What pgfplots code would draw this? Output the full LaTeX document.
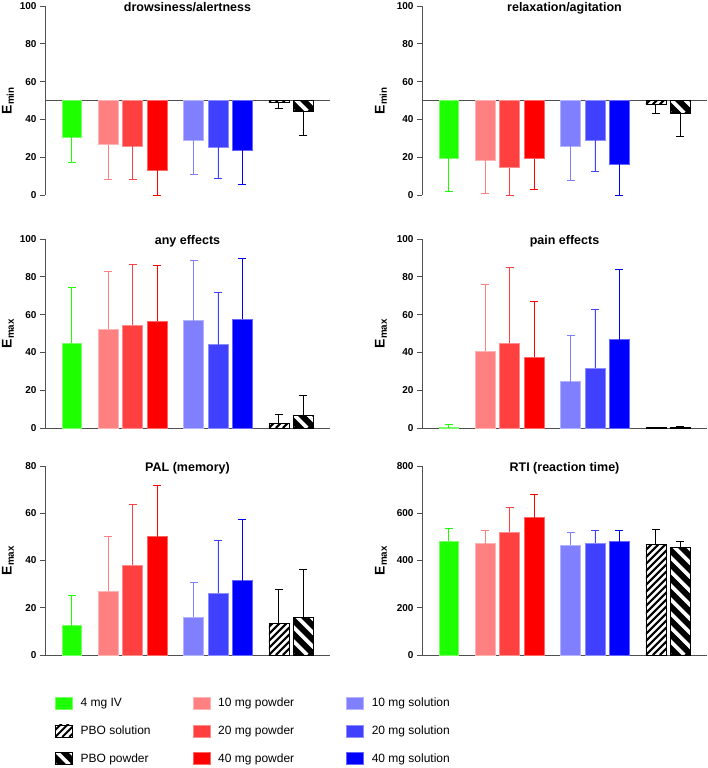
\documentclass[border=0pt]{standalone}
\usepackage{fontspec}
\setmainfont{Liberation Sans}
\usepackage{pgfplots}
\pgfplotsset{compat=1.18}

\definecolor{cG}{RGB}{30,255,0}
\definecolor{cP1}{RGB}{255,128,128}
\definecolor{cP2}{RGB}{255,64,64}
\definecolor{cP3}{RGB}{255,0,0}
\definecolor{cS1}{RGB}{128,128,255}
\definecolor{cS2}{RGB}{64,64,255}
\definecolor{cS3}{RGB}{0,0,255}
\definecolor{axgray}{RGB}{80,80,80}

% stripes on a PBO bar: #1 sol/pow, #2 x, #3 base, #4 value (data units)
\def\yoff{0}
\newcommand\stripessol{\foreach \k in {-18,...,3}
  {\draw[black, line width=2pt] ([xshift=\k*7pt]axis cs:\hxl,\hlo) -- ++(200pt,200pt);}}
\newcommand\stripespow{\foreach \k in {0,...,11}
  {\draw[white, line width=3.8pt] ([xshift=\k*14pt]axis cs:\hxl,\hlo) -- ++(-200pt,200pt);}}
\newcommand\hatchbar[4]{\pgfplotsextra{%
  \pgfmathsetmacro\hxl{#2-0.41}\pgfmathsetmacro\hxr{#2+0.41}%
  \pgfmathsetmacro\hyb{#3-\yoff}\pgfmathsetmacro\hyt{#4-\yoff}%
  \pgfmathsetmacro\hlo{min(#3,#4)-\yoff}%
  \begin{scope}
    \clip (axis cs:\hxl,\hyb) rectangle (axis cs:\hxr,\hyt);
    \csname stripes#1\endcsname
  \end{scope}
  \draw[black, line width=0.6pt] (axis cs:\hxl,\hyb) rectangle (axis cs:\hxr,\hyt);}}

\pgfplotsset{
  panel/.style={
    scale only axis, width=285pt, height=189pt, anchor=south west,
    xmin=-1.1, xmax=10.6, xtick=\empty,
    axis y line*=left, axis x line*=bottom,
    axis line style={draw=axgray, line width=0.9pt},
    tick style={draw=axgray, line width=0.9pt},
    tick align=outside, major tick length=5pt,
    yticklabel style={font=\bfseries\fontsize{10}{12}\selectfont},
    /pgf/number format/assume math mode=true,
    every axis title/.style={at={(0.5,1)}, anchor=base, yshift=-5.5pt,
      font=\bfseries\fontsize{12.5}{15}\selectfont},
    every axis y label/.style={at={(axis description cs:0,0.5)}, rotate=90, anchor=center, yshift=#1,
      font=\bfseries\fontsize{14}{16}\selectfont},
    error bars/y dir=plus, error bars/y explicit,
    clip=false,
  },
  emin/.style={
    axis x line=none, y filter/.expression={y-50},
    ymin=-50, ymax=50, ytick={-50,-30,-10,10,30,50}, yticklabels={0,20,40,60,80,100},
    error bars/y dir=minus, ylabel={E\textsubscript{min}},
  },
  emax/.style={ylabel={E\textsubscript{max}}},
  barbase/.style={ybar, bar width=0.82, bar shift=0pt, line width=0.6pt},
  cbar/.style={barbase, fill=#1, draw=#1!60!white,
    error bars/error bar style={draw=#1, line width=0.8pt},
    error bars/error mark options={draw=#1, rotate=90, mark size=4pt, line width=0.8pt}},
  kerr/.style={error bars/error bar style={draw=black, line width=0.8pt},
    error bars/error mark options={draw=black, rotate=90, mark size=4pt, line width=0.8pt}},
  pbosol/.style={barbase, fill=white, draw=black, kerr},
  pbopow/.style={barbase, fill=black, draw=black, kerr},
  sqlegend/.style={legend image code/.code={\draw[##1, line width=0.6pt] (0pt,-6pt) rectangle (17pt,6pt);}},
  sollegend/.style={legend image code/.code={%
    \begin{scope}
      \clip (0pt,-6pt) rectangle (17pt,6pt);
      \fill[white] (0pt,-6pt) rectangle (17pt,6pt);
      \foreach \k in {-3,...,3} {\draw[black, line width=2pt] (\k*7pt,-6pt) -- ++(20pt,20pt);}
    \end{scope}
    \draw[black, line width=0.6pt] (0pt,-6pt) rectangle (17pt,6pt);}},
  powlegend/.style={legend image code/.code={%
    \begin{scope}
      \clip (0pt,-6pt) rectangle (17pt,6pt);
      \fill[black] (0pt,-6pt) rectangle (17pt,6pt);
      \foreach \k in {0,...,3} {\draw[white, line width=3.8pt] (\k*14pt,-6pt) -- ++(-20pt,20pt);}
    \end{scope}
    \draw[black, line width=0.6pt] (0pt,-6pt) rectangle (17pt,6pt);}},
}

\begin{document}
\begin{tikzpicture}
\path[use as bounding box] (0,0) rectangle (708pt,-768pt);

% drowsiness/alertness
\begin{axis}[panel=37pt, emin, at={(45pt,-195pt)}, title={drowsiness/alertness}]
\def\yoff{50}
\addplot[axgray, line width=0.9pt, mark=none] coordinates {(-1.1,50) (10.6,50)};
\addplot[cbar=cG]  coordinates {(0,30.5)   +- (0,13.2)};
\addplot[cbar=cP1] coordinates {(1.5,26.6) +- (0,18.3)};
\addplot[cbar=cP2] coordinates {(2.5,25.9) +- (0,17.4)};
\addplot[cbar=cP3] coordinates {(3.5,13.2) +- (0,13.2)};
\addplot[cbar=cS1] coordinates {(5,29.1)   +- (0,18.3)};
\addplot[cbar=cS2] coordinates {(6,25.4)   +- (0,16.4)};
\addplot[cbar=cS3] coordinates {(7,23.6)   +- (0,18.0)};
\addplot[pbosol]   coordinates {(8.5,49.0) +- (0,3.1)};
\addplot[pbopow]   coordinates {(9.5,44.4) +- (0,13.0)};
\hatchbar{sol}{8.5}{50}{49.0}
\hatchbar{pow}{9.5}{50}{44.4}
\end{axis}

% relaxation/agitation
\begin{axis}[panel=41pt, emin, at={(422pt,-195pt)}, title={relaxation/agitation}]
\def\yoff{50}
\addplot[axgray, line width=0.9pt, mark=none] coordinates {(-1.1,50) (10.6,50)};
\addplot[cbar=cG]  coordinates {(0,19.4)   +- (0,17.6)};
\addplot[cbar=cP1] coordinates {(1.5,18.5) +- (0,17.6)};
\addplot[cbar=cP2] coordinates {(2.5,14.5) +- (0,14.5)};
\addplot[cbar=cP3] coordinates {(3.5,19.2) +- (0,16.2)};
\addplot[cbar=cS1] coordinates {(5,25.9)   +- (0,18.0)};
\addplot[cbar=cS2] coordinates {(6,28.9)   +- (0,16.6)};
\addplot[cbar=cS3] coordinates {(7,16.4)   +- (0,16.4)};
\addplot[pbosol]   coordinates {(8.5,48.0) +- (0,5.0)};
\addplot[pbopow]   coordinates {(9.5,43.4) +- (0,12.5)};
\hatchbar{sol}{8.5}{50}{48.0}
\hatchbar{pow}{9.5}{50}{43.4}
\end{axis}

% any effects
\begin{axis}[panel=37pt, emax, at={(45pt,-428pt)}, title={any effects},
  ymin=0, ymax=100, ytick={0,20,...,100}]
\addplot[cbar=cG]  coordinates {(0,45.0)   +- (0,29.5)};
\addplot[cbar=cP1] coordinates {(1.5,52.2) +- (0,30.8)};
\addplot[cbar=cP2] coordinates {(2.5,54.5) +- (0,32.2)};
\addplot[cbar=cP3] coordinates {(3.5,56.5) +- (0,29.3)};
\addplot[cbar=cS1] coordinates {(5,56.8)   +- (0,32.0)};
\addplot[cbar=cS2] coordinates {(6,44.1)   +- (0,27.9)};
\addplot[cbar=cS3] coordinates {(7,57.7)   +- (0,32.0)};
\addplot[pbosol]   coordinates {(8.5,2.3)  +- (0,5.0)};
\addplot[pbopow]   coordinates {(9.5,6.9)  +- (0,10.3)};
\hatchbar{sol}{8.5}{0}{2.3}
\hatchbar{pow}{9.5}{0}{6.9}
\end{axis}

% pain effects
\begin{axis}[panel=41pt, emax, at={(422pt,-428pt)}, title={pain effects},
  ymin=0, ymax=100, ytick={0,20,...,100}]
\addplot[cbar=cG]  coordinates {(0,0.2)    +- (0,1.9)};
\addplot[cbar=cP1] coordinates {(1.5,40.5) +- (0,35.4)};
\addplot[cbar=cP2] coordinates {(2.5,44.8) +- (0,40.2)};
\addplot[cbar=cP3] coordinates {(3.5,37.5) +- (0,29.6)};
\addplot[cbar=cS1] coordinates {(5,24.6)   +- (0,24.6)};
\addplot[cbar=cS2] coordinates {(6,31.5)   +- (0,31.5)};
\addplot[cbar=cS3] coordinates {(7,46.7)   +- (0,37.0)};
\addplot[pbosol]   coordinates {(8.5,0.2)  +- (0,0.3)};
\addplot[pbopow]   coordinates {(9.5,0.3)  +- (0,0.6)};
\end{axis}

% PAL (memory)
\begin{axis}[panel=37pt, emax, at={(45pt,-655pt)}, title={PAL (memory)},
  ymin=0, ymax=80, ytick={0,20,...,80}]
\addplot[cbar=cG]  coordinates {(0,12.4)   +- (0,12.8)};
\addplot[cbar=cP1] coordinates {(1.5,27.1) +- (0,23.1)};
\addplot[cbar=cP2] coordinates {(2.5,37.9) +- (0,25.7)};
\addplot[cbar=cP3] coordinates {(3.5,50.1) +- (0,21.7)};
\addplot[cbar=cS1] coordinates {(5,15.9)   +- (0,14.8)};
\addplot[cbar=cS2] coordinates {(6,26.2)   +- (0,22.2)};
\addplot[cbar=cS3] coordinates {(7,31.5)   +- (0,25.8)};
\addplot[pbosol]   coordinates {(8.5,13.4) +- (0,14.5)};
\addplot[pbopow]   coordinates {(9.5,15.9) +- (0,20.5)};
\hatchbar{sol}{8.5}{0}{13.4}
\hatchbar{pow}{9.5}{0}{15.9}
\end{axis}

% RTI (reaction time)
\begin{axis}[panel=41pt, emax, at={(422pt,-655pt)}, title={RTI (reaction time)},
  ymin=0, ymax=800, ytick={0,200,...,800}]
\addplot[cbar=cG]  coordinates {(0,482)   +- (0,54)};
\addplot[cbar=cP1] coordinates {(1.5,471) +- (0,58)};
\addplot[cbar=cP2] coordinates {(2.5,520) +- (0,105)};
\addplot[cbar=cP3] coordinates {(3.5,581) +- (0,97)};
\addplot[cbar=cS1] coordinates {(5,464)   +- (0,54)};
\addplot[cbar=cS2] coordinates {(6,474)   +- (0,53)};
\addplot[cbar=cS3] coordinates {(7,480)   +- (0,49)};
\addplot[pbosol]   coordinates {(8.5,468) +- (0,62)};
\addplot[pbopow]   coordinates {(9.5,454) +- (0,28)};
\hatchbar{sol}{8.5}{0}{468}
\hatchbar{pow}{9.5}{0}{454}
\end{axis}

% legend
\begin{axis}[hide axis, scale only axis, width=708pt, height=100pt,
  at={(0pt,-768pt)}, anchor=south west, xmin=0, xmax=1, ymin=0, ymax=1,
  legend columns=3, legend cell align=left,
  legend style={draw=none, fill=none, at={(0.0777,0.71)}, anchor=north west,
    inner sep=0pt, outer sep=0pt, row sep=15pt, column sep=0pt,
    font=\fontsize{12}{14}\selectfont, nodes={inner xsep=0pt, inner ysep=1pt}}]
\addlegendimage{sqlegend, fill=cG, draw=cG!60!white}
\addlegendentry{\hspace{8pt}\makebox[112pt][l]{4 mg IV}}
\addlegendimage{sqlegend, fill=cP1, draw=cP1!60!white}
\addlegendentry{\hspace{8pt}\makebox[128pt][l]{10 mg powder}}
\addlegendimage{sqlegend, fill=cS1, draw=cS1!60!white}
\addlegendentry{\hspace{8pt}10 mg solution}
\addlegendimage{sollegend}
\addlegendentry{\hspace{8pt}\makebox[112pt][l]{PBO solution}}
\addlegendimage{sqlegend, fill=cP2, draw=cP2!60!white}
\addlegendentry{\hspace{8pt}\makebox[128pt][l]{20 mg powder}}
\addlegendimage{sqlegend, fill=cS2, draw=cS2!60!white}
\addlegendentry{\hspace{8pt}20 mg solution}
\addlegendimage{powlegend}
\addlegendentry{\hspace{8pt}\makebox[112pt][l]{PBO powder}}
\addlegendimage{sqlegend, fill=cP3, draw=cP3!60!white}
\addlegendentry{\hspace{8pt}\makebox[128pt][l]{40 mg powder}}
\addlegendimage{sqlegend, fill=cS3, draw=cS3!60!white}
\addlegendentry{\hspace{8pt}40 mg solution}
\end{axis}
\end{tikzpicture}
\end{document}
